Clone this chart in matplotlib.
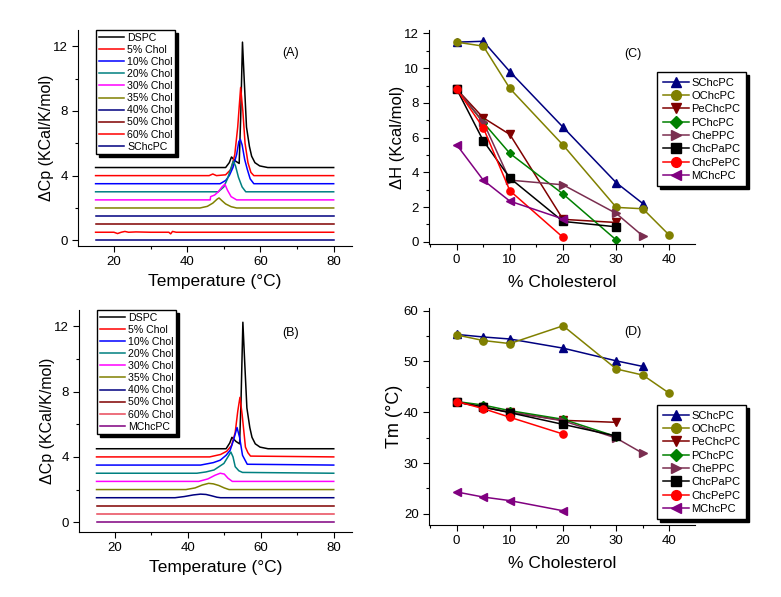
import matplotlib
matplotlib.use("Agg")
import matplotlib.pyplot as plt
from matplotlib.ticker import MultipleLocator

plt.rcParams["font.family"] = ["Liberation Sans", "DejaVu Sans"]

# ---- panel A/B: DSC thermograms (temperature in C, Cp offset stacked) ----
dsc_labels_a = ["DSPC", "5% Chol", "10% Chol", "20% Chol", "30% Chol", "35% Chol",
                "40% Chol", "50% Chol", "60% Chol", "SChcPC"]
dsc_labels_b = ["DSPC", "5% Chol", "10% Chol", "20% Chol", "30% Chol", "35% Chol",
                "40% Chol", "50% Chol", "60% Chol", "MChcPC"]
dsc_colors_a = ["#000000", "#ff0000", "#0000ff", "#008080", "#ff00ff", "#808000",
                "#000080", "#800000", "#ff0000", "#000080"]
dsc_colors_b = ["#000000", "#ff0000", "#0000ff", "#008080", "#ff00ff", "#808000",
                "#000080", "#800000", "#e84858", "#800080"]

t_a = [
    [15, 50.5, 51.5, 52.1, 53.2, 54.2, 54.6, 55.1, 55.6, 56.2, 57.0, 57.6, 58.5, 59.8, 62, 80],
    [15, 46, 47, 48, 50.5, 52, 53, 53.8, 54.6, 55.2, 55.8, 56.6, 57.4, 58.2, 80],
    [15, 49, 50.5, 51.5, 52.5, 53.5, 54.1, 54.5, 55.0, 55.7, 56.4, 57.2, 58.2, 80],
    [15, 48.5, 50, 51, 52, 52.6, 53.2, 54, 55, 56, 80],
    [15, 46.3, 46.4, 47.5, 48.5, 49.5, 50.3, 51, 52, 53.5, 80],
    [15, 43.5, 45.5, 47, 48.2, 48.7, 49.5, 50.5, 52, 53.5, 80],
    [15, 80],
    [15, 80],
    [15, 20, 21, 22, 23, 24, 26, 30, 35, 35.5, 36, 37, 48, 80],
    [15, 80],
]
cp_a = [
    [4.5, 4.5, 4.8, 5.15, 4.9, 4.75, 7.5, 12.25, 9.8, 7.0, 5.8, 5.2, 4.8, 4.6, 4.5, 4.5],
    [4.0, 4.0, 4.1, 4.0, 4.05, 4.4, 5.3, 7.0, 9.45, 8.0, 6.0, 4.8, 4.2, 4.0, 4.0],
    [3.5, 3.5, 3.7, 4.0, 4.5, 5.3, 6.1, 6.25, 5.9, 5.0, 4.4, 3.8, 3.5, 3.5],
    [3.0, 3.0, 3.3, 3.8, 4.5, 4.9, 4.6, 3.9, 3.3, 3.0, 3.0],
    [2.5, 2.5, 2.7, 2.8, 3.0, 3.3, 3.47, 3.1, 2.7, 2.5, 2.5],
    [2.0, 2.0, 2.1, 2.3, 2.55, 2.62, 2.45, 2.25, 2.08, 2.0, 2.0],
    [1.5, 1.5],
    [1.0, 1.0],
    [0.5, 0.5, 0.42, 0.5, 0.55, 0.5, 0.52, 0.5, 0.5, 0.4, 0.55, 0.5, 0.5, 0.5],
    [0.0, 0.0],
]

t_b = [
    [15, 50.5, 51.5, 52.1, 53.2, 54.2, 54.6, 55.1, 55.6, 56.2, 57.0, 57.6, 58.5, 59.8, 62, 80],
    [15, 46, 49, 50.7, 52, 53, 53.7, 54.3, 54.9, 55.8, 56.5, 57.2, 80],
    [15, 43.5, 47, 48.9, 50.5, 51.6, 52.5, 53.5, 54.2, 55.0, 56.3, 80],
    [15, 42.5, 45, 47.2, 49.9, 51, 51.8, 52.4, 53, 54, 55, 80],
    [15, 43, 45.5, 47.5, 48.9, 50, 51, 52.2, 80],
    [15, 39.5, 42, 44, 45.7, 47, 48.5, 50, 51.3, 80],
    [15, 36.5, 39, 41.5, 43.5, 45, 46.5, 48, 49, 80],
    [15, 80],
    [15, 80],
    [15, 80],
]
cp_b = [
    [4.5, 4.5, 4.85, 5.2, 4.95, 4.8, 7.5, 12.25, 9.8, 7.0, 5.8, 5.2, 4.8, 4.6, 4.5, 4.5],
    [4.0, 4.0, 4.15, 4.35, 4.7, 5.5, 6.8, 7.65, 6.6, 4.6, 4.25, 4.05, 4.0],
    [3.5, 3.5, 3.65, 3.8, 4.1, 4.4, 5.0, 5.8, 5.2, 4.1, 3.55, 3.5],
    [3.0, 3.0, 3.08, 3.2, 3.6, 4.0, 4.3, 4.0, 3.4, 3.15, 3.05, 3.0],
    [2.5, 2.5, 2.65, 2.88, 3.0, 2.95, 2.7, 2.5, 2.5],
    [2.0, 2.0, 2.1, 2.28, 2.38, 2.35, 2.25, 2.1, 2.0, 2.0],
    [1.5, 1.5, 1.57, 1.67, 1.72, 1.7, 1.62, 1.53, 1.5, 1.5],
    [1.0, 1.0],
    [0.5, 0.5],
    [0.0, 0.0],
]

# ---- panel C/D: dH and Tm vs % cholesterol ----
lipids = ["SChcPC", "OChcPC", "PeChcPC", "PChcPC", "ChePPC", "ChcPaPC", "ChcPePC", "MChcPC"]
lip_colors = ["#000080", "#808000", "#800000", "#008000", "#7a2e50", "#000000", "#ff0000", "#800080"]
lip_markers = ["^", "o", "v", "D", ">", "s", "o", "<"]

chol_x = [
    [0, 5, 10, 20, 30, 35],
    [0, 5, 10, 20, 30, 35, 40],
    [0, 5, 10, 20, 30],
    [0, 5, 10, 20, 30],
    [0, 5, 10, 20, 30, 35],
    [0, 5, 10, 20, 30],
    [0, 5, 10, 20],
    [0, 5, 10, 20],
]
dh = [
    [11.5, 11.55, 9.8, 6.6, 3.4, 2.2],
    [11.5, 11.27, 8.83, 5.57, 1.98, 1.9, 0.37],
    [8.8, 7.14, 6.18, 1.29, 1.11],
    [8.8, 6.87, 5.09, 2.75, 0.1],
    [8.8, 6.9, 3.55, 3.28, 1.63, 0.33],
    [8.8, 5.82, 3.67, 1.17, 0.86],
    [8.8, 6.57, 2.94, 0.25],
    [5.59, 3.55, 2.34, 1.31],
]
tm = [
    [55.3, 54.8, 54.4, 52.6, 50.1, 49.0],
    [55.2, 54.1, 53.5, 57.0, 48.5, 47.3, 43.7],
    [42.0, 41.0, 40.0, 38.4, 38.0],
    [42.1, 41.4, 40.3, 38.6, 35.2],
    [42.0, 41.0, 40.0, 38.3, 34.9, 31.9],
    [42.0, 41.0, 39.9, 37.6, 35.3],
    [42.1, 40.7, 39.0, 35.7],
    [24.3, 23.3, 22.6, 20.6],
]

fig = plt.figure(figsize=(7.81, 5.97), dpi=100)
W, H = 781, 597


def add_ax(l, t, r, b):
    return fig.add_axes([l / W, 1 - b / H, (r - l) / W, (b - t) / H])


def style(ax):
    ax.spines["top"].set_visible(False)
    ax.spines["right"].set_visible(False)
    ax.tick_params(which="major", direction="out", length=4, width=0.8, labelsize=9.5)
    ax.tick_params(which="minor", direction="out", length=2, width=0.8)


legend_kw = dict(frameon=True, fancybox=False, edgecolor="black", framealpha=1,
                 shadow={"color": "black", "alpha": 1}, borderaxespad=0)

ax_a = add_ax(78, 30, 352, 246)
ax_b = add_ax(79, 310, 352, 532)
ax_c = add_ax(429, 30, 695, 244)
ax_d = add_ax(429, 308, 695, 525)

for ax, ts, cps, labs, cols, tag in [(ax_a, t_a, cp_a, dsc_labels_a, dsc_colors_a, "(A)"),
                                     (ax_b, t_b, cp_b, dsc_labels_b, dsc_colors_b, "(B)")]:
    for t, c, lab, col in zip(ts, cps, labs, cols):
        ax.plot(t, c, color=col, lw=1.1, label=lab)
    ax.set_xlim(10.2, 85)
    ax.set_ylim(-0.35 if ax is ax_a else -0.6, 13)
    ax.xaxis.set_major_locator(MultipleLocator(20))
    ax.xaxis.set_minor_locator(MultipleLocator(10))
    ax.yaxis.set_major_locator(MultipleLocator(4))
    ax.yaxis.set_minor_locator(MultipleLocator(2))
    style(ax)
    ax.set_xlabel("Temperature (°C)", fontsize=12.5, labelpad=4)
    ax.set_ylabel("\u0394Cp (KCal/K/mol)", fontsize=11.5, labelpad=-1)
    ax.text(0.775, 0.895, tag, transform=ax.transAxes, fontsize=9, ha="center", va="center")
    ax.legend(loc="upper left", bbox_to_anchor=(0.066, 1.0), fontsize=7.6,
              handlelength=2.4, handletextpad=0.3, labelspacing=0.2,
              borderpad=0.25, **legend_kw)

for ax, ys, tag in [(ax_c, dh, "(C)"), (ax_d, tm, "(D)")]:
    for x, y, lab, col, mk in zip(chol_x, ys, lipids, lip_colors, lip_markers):
        ms = 4.5 if mk == "D" else 5.2
        ax.plot(x, y, color=col, marker=mk, ms=ms, lw=1.1, label=lab)
    ax.set_xlim(-5.2, 44.8)
    ax.xaxis.set_major_locator(MultipleLocator(10))
    ax.xaxis.set_minor_locator(MultipleLocator(5))
    style(ax)
    ax.set_xlabel("% Cholesterol", fontsize=12.5, labelpad=6)
    ax.text(0.765, 0.89, tag, transform=ax.transAxes, fontsize=9, ha="center", va="center")

ax_c.set_ylim(-0.13, 12.2)
ax_c.yaxis.set_major_locator(MultipleLocator(2))
ax_c.yaxis.set_minor_locator(MultipleLocator(1))
ax_c.set_ylabel("\u0394H (Kcal/mol)", fontsize=12, labelpad=-1)

ax_d.set_ylim(17.8, 60.5)
ax_d.yaxis.set_major_locator(MultipleLocator(10))
ax_d.yaxis.set_minor_locator(MultipleLocator(5))
ax_d.set_ylabel("Tm (°C)", fontsize=13, labelpad=0.5)

leg_c_kw = dict(loc="upper left", fontsize=8, handlelength=2.4, handletextpad=0.2,
                labelspacing=0.3, borderpad=0.5, markerscale=1.35, **legend_kw)
ax_c.legend(bbox_to_anchor=(657 / W, 1 - 72 / H), bbox_transform=fig.transFigure, **leg_c_kw)
ax_d.legend(bbox_to_anchor=(657 / W, 1 - 405 / H), bbox_transform=fig.transFigure, **leg_c_kw)

fig.savefig("out.png", dpi=100)
